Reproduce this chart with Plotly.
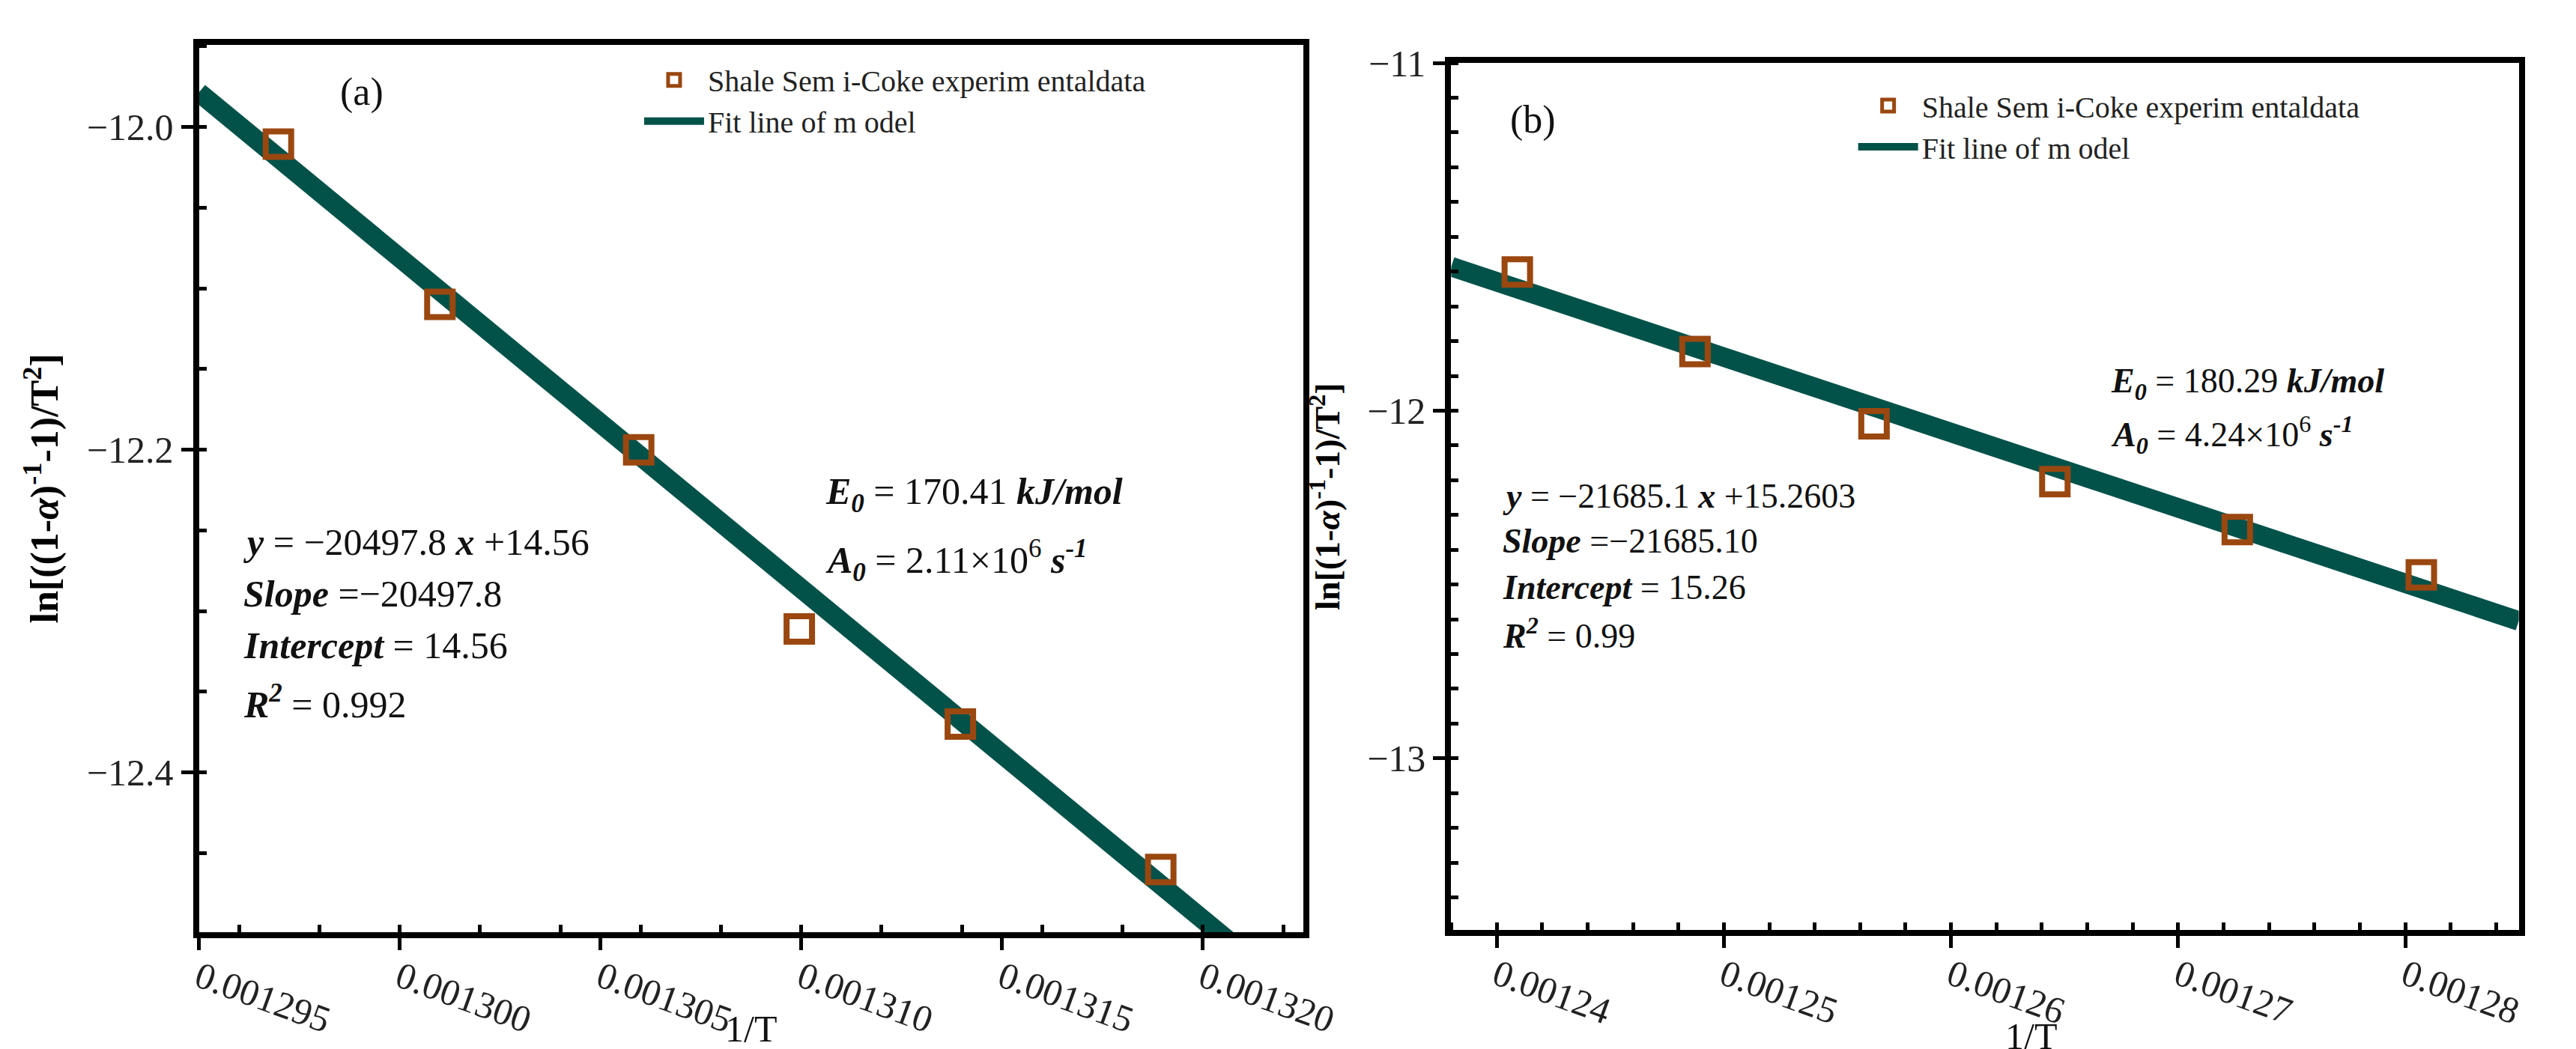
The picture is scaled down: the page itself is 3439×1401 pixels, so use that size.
import plotly.graph_objects as go

W, H = 3439, 1401
# Panel (a) data
xa = [0.00129698, 0.0013010, 0.00130595, 0.00130995, 0.00131396, 0.00131895]
ya = [-12.0107, -12.110, -12.200, -12.311, -12.370, -12.460]
slope_a, icpt_a = -20497.8, 14.566
xa_range = [0.001295, 0.0013225]
ya_range = [-12.499, -11.949]
xa_ticks = [0.001295, 0.001300, 0.001305, 0.001310, 0.001315, 0.001320]
xa_ticklabels = ["0.001295", "0.001300", "0.001305", "0.001310", "0.001315", "0.001320"]
ya_ticks = [-12.0, -12.2, -12.4]
ya_ticklabels = ["\u221212.0", "\u221212.2", "\u221212.4"]

# Panel (b) data
xb = [0.00124091, 0.00124873, 0.00125661, 0.00126457, 0.00127260, 0.00128070]
yb = [-11.601, -11.830, -12.038, -12.204, -12.342, -12.472]
slope_b, icpt_b = -21685.1, 15.2603
xb_range = [0.0012380, 0.00128499]
yb_range = [-13.494, -11.0]
xb_ticks = [0.00124, 0.00125, 0.00126, 0.00127, 0.00128]
xb_ticklabels = ["0.00124", "0.00125", "0.00126", "0.00127", "0.00128"]
yb_ticks = [-11, -12, -13]
yb_ticklabels = ["\u221211", "\u221212", "\u221213"]

MC = "#9A4710"
LC = "#03524A"
FONT = "Liberation Serif"

def px(x): return x / W
def py(y): return 1 - y / H

fig = go.Figure()
fig.add_trace(go.Scatter(x=xa_range, y=[slope_a * v + icpt_a for v in xa_range], mode="lines",
                         line=dict(color=LC, width=26), name="Fit line of m odel",
                         xaxis="x", yaxis="y", legend="legend", legendrank=2))
fig.add_trace(go.Scatter(x=xa, y=ya, mode="markers", name="Shale Sem i-Coke experim entaldata",
                         marker=dict(symbol="square-open", size=34, color=MC, line=dict(width=8, color=MC)),
                         xaxis="x", yaxis="y", legend="legend", legendrank=1))
fig.add_trace(go.Scatter(x=xb_range, y=[slope_b * v + icpt_b for v in xb_range], mode="lines",
                         line=dict(color=LC, width=26), name="Fit line of m odel",
                         xaxis="x2", yaxis="y2", legend="legend2", legendrank=2))
fig.add_trace(go.Scatter(x=xb, y=yb, mode="markers", name="Shale Sem i-Coke experim entaldata",
                         marker=dict(symbol="square-open", size=34, color=MC, line=dict(width=8, color=MC)),
                         xaxis="x2", yaxis="y2", legend="legend2", legendrank=1))

axis_common = dict(showline=True, linewidth=8, linecolor="black", mirror=True, showgrid=False,
                   zeroline=False, ticks="outside", ticklen=16, tickwidth=5, tickcolor="black",
                   tickfont=dict(family=FONT, size=50, color="#222"),
                   minor=dict(ticks="inside", ticklen=10, tickwidth=5, tickcolor="black"))

fig.update_layout(
    width=W, height=H, paper_bgcolor="white", plot_bgcolor="white",
    margin=dict(l=0, r=0, t=0, b=0), showlegend=True,
    font=dict(family=FONT, color="#222"),
    xaxis=dict(axis_common, domain=[px(250), px(1751)], range=xa_range, tickvals=xa_ticks,
               ticktext=xa_ticklabels, tickangle=20, anchor="y", ticklabelstandoff=-12),
    yaxis=dict(axis_common, domain=[py(1234), py(25)], range=ya_range, tickvals=ya_ticks,
               ticktext=ya_ticklabels, anchor="x",
               title=dict(text="<b>ln[((1-<i>α</i>)<sup>-1</sup>-1)/T<sup>2</sup>]</b>",
                          font=dict(family=FONT, size=52, color="black"), standoff=25)),
    xaxis2=dict(axis_common, domain=[px(1952), px(3403)], range=xb_range, tickvals=xb_ticks,
                ticktext=xb_ticklabels, tickangle=20, anchor="y2", ticklabelstandoff=-12),
    yaxis2=dict(axis_common, domain=[py(1231), py(50)], range=yb_range, tickvals=yb_ticks,
                ticktext=yb_ticklabels, anchor="x2",
                title=dict(text="<b>ln[(1-<i>α</i>)<sup>-1</sup>-1)/T<sup>2</sup>]</b>",
                           font=dict(family=FONT, size=46, color="black"), standoff=25)),
    legend=dict(x=px(850), y=py(40), xanchor="left", yanchor="top", bgcolor="rgba(0,0,0,0)",
                font=dict(family=FONT, size=40), itemwidth=80, tracegroupgap=0),
    legend2=dict(x=px(2500), y=py(75), xanchor="left", yanchor="top", bgcolor="rgba(0,0,0,0)",
                 font=dict(family=FONT, size=40), itemwidth=80, tracegroupgap=0),
)

def ann(x, y, text, size=48, anchor="left"):
    fig.add_annotation(xref="paper", yref="paper", x=px(x), y=py(y), text=text, showarrow=False,
                       xanchor=anchor, yanchor="middle", font=dict(family=FONT, size=size, color="#111"))

ann(1000, 1365, "1/T", 50, "center")
ann(2740, 1375, "1/T", 50, "center")

ann(440, 90, "(a)", 52)
ann(1100, 637, "<b><i>E<sub>0</sub></i></b> = 170.41 <b><i>kJ/mol</i></b>", 50)
ann(1100, 728, "<b><i>A<sub>0</sub></i></b> = 2.11×10<sup>6</sup> <b><i>s<sup>-1</sup></i></b>", 50)
ann(308, 703, "<b><i>y</i></b> = −20497.8 <b><i>x</i></b> +14.56", 50)
ann(308, 773, "<b><i>Slope</i></b> =−20497.8", 50)
ann(308, 843, "<b><i>Intercept</i></b> = 14.56", 50)
ann(308, 920, "<b><i>R<sup>2</sup></i></b> = 0.992", 50)

ann(2030, 127, "(b)", 52)
ann(2846, 486, "<b><i>E<sub>0</sub></i></b> = 180.29 <b><i>kJ/mol</i></b>", 46)
ann(2846, 556, "<b><i>A<sub>0</sub></i></b> = 4.24×10<sup>6</sup> <b><i>s<sup>-1</sup></i></b>", 46)
ann(2020, 640, "<b><i>y</i></b> = −21685.1 <b><i>x</i></b> +15.2603", 46)
ann(2020, 701, "<b><i>Slope</i></b> =−21685.10", 46)
ann(2020, 764, "<b><i>Intercept</i></b> = 15.26", 46)
ann(2020, 827, "<b><i>R<sup>2</sup></i></b> = 0.99", 46)

fig.write_html("out.html")
